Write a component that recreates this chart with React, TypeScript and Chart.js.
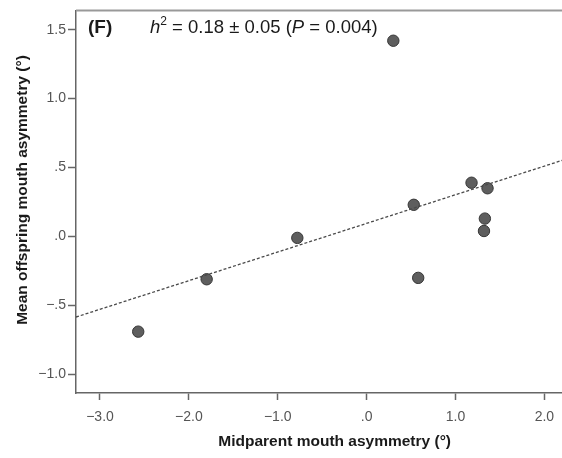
import React, { useEffect, useRef } from "react";
import { Chart, registerables } from "chart.js";

Chart.register(...registerables);

// Data
const midparent = [-2.57, -1.8, -0.78, 0.3, 0.53, 0.58, 1.18, 1.36, 1.33, 1.32];
const offspring = [-0.69, -0.31, -0.01, 1.42, 0.23, -0.3, 0.39, 0.35, 0.13, 0.04];
const fitX = [-3.27, 2.55];
const fitY = [-0.584, 0.625];

const xTickValues = [-3, -2, -1, 0, 1, 2];
const xTickLabels = ["\u22123.0", "\u22122.0", "\u22121.0", ".0", "1.0", "2.0"];
const yTickValues = [-1, -0.5, 0, 0.5, 1, 1.5];
const yTickLabels = ["\u22121.0", "\u2212.5", ".0", ".5", "1.0", "1.5"];

const xTitle = "Midparent mouth asymmetry (\u00b0)";
const yTitle = "Mean offspring mouth asymmetry (\u00b0)";
const panelLabel = "(F)";

const FONT = '"Liberation Sans", Arial, sans-serif';

const textPlugin = {
  id: "textPlugin",
  afterDraw(chart: any) {
    const ctx = chart.ctx as CanvasRenderingContext2D;
    const area = chart.chartArea;
    ctx.save();
    // top frame line
    ctx.strokeStyle = "#999";
    ctx.lineWidth = 2;
    ctx.beginPath();
    ctx.moveTo(area.left, area.top);
    ctx.lineTo(area.right, area.top);
    ctx.stroke();

    // axis titles
    ctx.fillStyle = "#1a1a1a";
    ctx.font = `bold 15.5px ${FONT}`;
    ctx.textAlign = "center";
    ctx.textBaseline = "middle";
    ctx.fillText(xTitle, (area.left + area.right) / 2, 442);
    ctx.save();
    ctx.translate(23, 190);
    ctx.rotate(-Math.PI / 2);
    ctx.fillText(yTitle, 0, 0);
    ctx.restore();

    // panel label
    ctx.textAlign = "left";
    ctx.textBaseline = "alphabetic";
    ctx.font = `bold 19px ${FONT}`;
    ctx.fillText(panelLabel, 88, 33);

    // h^2 annotation
    const base = 33;
    let x = 150;
    const segs: [string, string, number][] = [
      ["h", `italic 18.5px ${FONT}`, 0],
      ["2", `12px ${FONT}`, -8],
      [" = 0.18 \u00b1 0.05 (", `18.5px ${FONT}`, 0],
      ["P", `italic 18.5px ${FONT}`, 0],
      [" = 0.004)", `18.5px ${FONT}`, 0],
    ];
    for (const [t, f, dy] of segs) {
      ctx.font = f;
      ctx.fillText(t, x, base + dy);
      x += ctx.measureText(t).width;
    }
    ctx.restore();
  },
};

export default function App() {
  const ref = useRef<HTMLCanvasElement | null>(null);
  useEffect(() => {
    if (!ref.current) return;
    const chart = new Chart(ref.current, {
      type: "scatter",
      data: {
        datasets: [
          {
            label: "fit",
            data: fitX.map((v, i) => ({ x: v, y: fitY[i] })),
            showLine: true,
            borderColor: "#4a4a4a",
            borderWidth: 1.3,
            borderDash: [3, 2],
            pointRadius: 0,
            fill: false,
          },
          {
            label: "families",
            data: midparent.map((v, i) => ({ x: v, y: offspring[i] })),
            backgroundColor: "#5e5e5e",
            borderColor: "#363636",
            borderWidth: 1,
            pointRadius: 5.7,
          },
        ],
      },
      options: {
        responsive: false,
        animation: false,
        layout: { padding: { top: 6, right: 4, left: 0, bottom: 0 } },
        plugins: {
          legend: { display: false },
          tooltip: { enabled: false },
        },
        scales: {
          x: {
            type: "linear",
            min: -3.27,
            max: 2.55,
            afterFit: (s: any) => {
              s.height = 65;
            },
            afterBuildTicks: (s: any) => {
              s.ticks = xTickValues.map((v) => ({ value: v }));
            },
            ticks: {
              color: "#555",
              font: { family: FONT, size: 14 },
              padding: 9,
              maxRotation: 0,
              callback: (v: any) => {
                const i = xTickValues.indexOf(Number(v));
                return i >= 0 ? xTickLabels[i] : "";
              },
            },
            grid: {
              drawOnChartArea: false,
              drawTicks: true,
              tickLength: 7,
              color: "#666",
              tickWidth: 1.5,
            },
            border: { display: true, color: "#666", width: 1.5 },
          },
          y: {
            type: "linear",
            min: -1.135,
            max: 1.64,
            afterFit: (s: any) => {
              s.width = 76;
            },
            afterBuildTicks: (s: any) => {
              s.ticks = yTickValues.map((v) => ({ value: v }));
            },
            ticks: {
              color: "#555",
              font: { family: FONT, size: 14 },
              padding: 2,
              callback: (v: any) => {
                const i = yTickValues.indexOf(Number(v));
                return i >= 0 ? yTickLabels[i] : "";
              },
            },
            grid: {
              drawOnChartArea: false,
              drawTicks: true,
              tickLength: 8,
              color: "#666",
              tickWidth: 1.5,
            },
            border: { display: true, color: "#666", width: 1.5 },
          },
        },
      },
      plugins: [textPlugin],
    });
    return () => chart.destroy();
  }, []);

  return (
    <div
      style={{
        position: "absolute",
        left: 0,
        top: 0,
        width: 562,
        height: 458,
        overflow: "hidden",
        background: "#fff",
      }}
    >
      <canvas ref={ref} width={600} height={458} style={{ display: "block" }} />
    </div>
  );
}
